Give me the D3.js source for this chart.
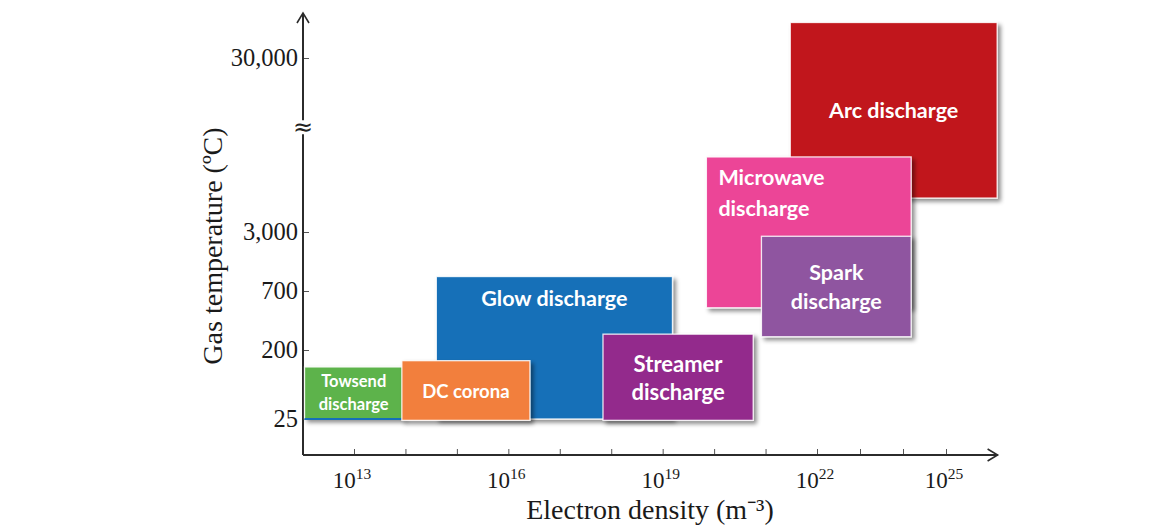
<!DOCTYPE html>
<html><head><meta charset="utf-8">
<script src="https://cdn.jsdelivr.net/npm/d3@7"></script>
<style>body{margin:0;background:#fff} svg{display:block}</style>
</head><body>
<svg id="chart" width="1161" height="527"></svg>
<script>
// ---- data ----
const regimes = ["Towsend discharge","DC corona","Glow discharge","Streamer discharge","Microwave discharge","Spark discharge","Arc discharge"];
const labelLines = [["Towsend","discharge"],["DC corona"],["Glow discharge"],["Streamer","discharge"],["Microwave","discharge"],["Spark","discharge"],["Arc discharge"]];
// electron density, log10(m^-3)
const densityMinExp = [12.03, 13.93, 14.6, 17.84, 19.85, 20.92, 21.48];
const densityMaxExp = [13.95, 16.42, 19.19, 20.76, 24.19, 24.19, 26.19];
// gas temperature (°C)
const tempMin = [25, 24, 25, 24, 490, 265, 4700];
const tempMax = [120, 145, 1000, 280, 8100, 2700, 48000];
const colors = ["#5db34b","#f27f3d","#1570b8","#932a8c","#ec4497","#8f55a0","#c1161c"];
const drawOrder = [2, 3, 0, 1, 6, 4, 5];
const xTickExp = [13,14,15,16,17,18,19,20,21,22,23,24,25];
const xLabelExp = [13,16,19,22,25];
const yTickValues = [25, 200, 700, 3000, 30000];
const yTickLabels = ["25","200","700","3,000","30,000"];
const yBreakValue = 12000;
const xAxisTitle = "Electron density (m⁻³)";
const yAxisTitle = "Gas temperature (ºC)";

// ---- layout / style ----
const labelStyle = [
  {mode:"center", size:16.5, lh:23},
  {mode:"center", size:18.5, lh:22},
  {mode:"top", size:21.5, lh:22, dy:21},
  {mode:"center", size:22, lh:28},
  {mode:"topleft", size:21.5, lh:31, dx:12, dy:20},
  {mode:"center", size:21.5, lh:29},
  {mode:"center", size:21.5, lh:24}
];

const svg = d3.select("#chart");
// piecewise (hand-drawn) scales
const x = d3.scaleLinear().domain([12, 13, 22, 25]).range([303, 354, 817, 946]);
const y = d3.scaleLinear().domain(yTickValues.map(Math.log10)).range([419, 350, 291, 232, 58]);
const yv = v => y(Math.log10(v));
const xAxisY = 455, yAxisX = x(12);
const xEnd = x(26.2), yTop = 13;

const defs = svg.append("defs");
const f = defs.append("filter").attr("id","shadow").attr("x","-10%").attr("y","-10%").attr("width","130%").attr("height","130%");
f.append("feDropShadow").attr("dx",3).attr("dy",3).attr("stdDeviation",2).attr("flood-color","#000").attr("flood-opacity",0.45);

const serif = "'Liberation Serif', 'Times New Roman', serif";
// axes
const axisColor = "#2b2b2b";
const gy = svg.append("g").attr("transform",`translate(${yAxisX},0)`)
  .call(d3.axisLeft(y).tickValues(yTickValues.map(Math.log10)).tickFormat((d,i)=>yTickLabels[i]).tickSize(-6).tickPadding(5));
gy.select(".domain").remove();
gy.selectAll(".tick line").attr("stroke","#555");
gy.selectAll(".tick text").attr("font-family",serif).attr("font-size",24.5).attr("fill","#1a1a1a");

const gx = svg.append("g").attr("transform",`translate(0,${xAxisY})`)
  .call(d3.axisBottom(x).tickValues(xTickExp).tickFormat("").tickSize(-6));
gx.select(".domain").remove();
gx.selectAll(".tick line").attr("stroke","#555");

const xl = svg.append("g").selectAll("text").data(xLabelExp).join("text")
  .attr("x", d => x(d) - 2).attr("y", 488)
  .attr("text-anchor","middle")
  .attr("font-family",serif)
  .attr("fill","#1a1a1a");
xl.append("tspan").attr("font-size",23).text("10");
xl.append("tspan").attr("font-size",15.5).attr("dy",-9).text(d => d);

// axis lines with arrows
svg.append("line").attr("x1",yAxisX).attr("x2",xEnd).attr("y1",xAxisY).attr("y2",xAxisY).attr("stroke",axisColor).attr("stroke-width",2);
svg.append("line").attr("x1",yAxisX).attr("x2",yAxisX).attr("y1",xAxisY).attr("y2",yTop).attr("stroke",axisColor).attr("stroke-width",2);
svg.append("path").attr("d",`M${xEnd-10},${xAxisY-6}L${xEnd},${xAxisY}L${xEnd-10},${xAxisY+6}`).attr("fill","none").attr("stroke",axisColor).attr("stroke-width",1.6);
svg.append("path").attr("d",`M${yAxisX-6},${yTop+10}L${yAxisX},${yTop}L${yAxisX+6},${yTop+10}`).attr("fill","none").attr("stroke",axisColor).attr("stroke-width",1.6);

// axis break
const by = yv(yBreakValue);
svg.append("rect").attr("x",yAxisX-9).attr("y",by-7).attr("width",18).attr("height",14).attr("fill","#fff");
svg.append("text").attr("x",yAxisX).attr("y",by).attr("text-anchor","middle").attr("dominant-baseline","central")
  .attr("font-family","'DejaVu Sans', sans-serif").attr("font-size",24).attr("fill","#222").text("≈");

// titles
svg.append("text").attr("x",650).attr("y",519).attr("text-anchor","middle")
  .attr("font-family",serif).attr("font-size",28).attr("fill","#1a1a1a").text(xAxisTitle);
svg.append("text").attr("transform","translate(222,246) rotate(-90)").attr("text-anchor","middle")
  .attr("font-family",serif).attr("font-size",28).attr("fill","#1a1a1a").text(yAxisTitle);

// boxes
const boxes = drawOrder.map(i => ({
  i, name: regimes[i], lines: labelLines[i], color: colors[i], st: labelStyle[i],
  x0: x(densityMinExp[i]), x1: x(densityMaxExp[i]), y0: yv(tempMax[i]), y1: yv(tempMin[i])
}));
const g = svg.append("g").selectAll("g").data(boxes).join("g");
g.append("rect")
  .attr("x", d => d.x0).attr("y", d => d.y0)
  .attr("width", d => d.x1 - d.x0).attr("height", d => d.y1 - d.y0)
  .attr("fill", d => d.color)
  .attr("stroke", "rgba(255,255,255,0.85)").attr("stroke-width", 1.3)
  .attr("filter","url(#shadow)");
// blue baseline under the Towsend box
g.filter(d => d.i === 0).append("line")
  .attr("x1", d => d.x0).attr("x2", d => d.x1).attr("y1", d => d.y1).attr("y2", d => d.y1)
  .attr("stroke", colors[2]).attr("stroke-width", 2);

g.each(function(d){
  const s = d.st, n = d.lines.length;
  let cx, cy0, anchor = "middle";
  if (s.mode === "center") { cx = (d.x0 + d.x1)/2; cy0 = (d.y0 + d.y1)/2 - (n-1)*s.lh/2; }
  else if (s.mode === "top") { cx = (d.x0 + d.x1)/2; cy0 = d.y0 + s.dy; }
  else { cx = d.x0 + s.dx; cy0 = d.y0 + s.dy; anchor = "start"; }
  d3.select(this).selectAll("text").data(d.lines).join("text")
    .attr("x", cx).attr("y", (t,k) => cy0 + k*s.lh)
    .attr("text-anchor", anchor).attr("dominant-baseline","central")
    .attr("font-family","Lato, 'Open Sans', sans-serif").attr("font-weight",700)
    .attr("font-size", s.size).attr("fill","#fff").text(t => t);
});
</script>
</body></html>
